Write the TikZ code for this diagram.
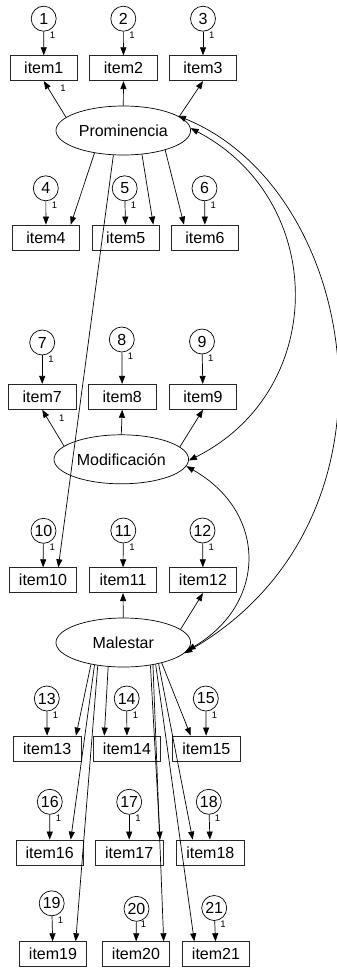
\documentclass[tikz,border=0pt]{standalone}
\usepackage{fontspec}
\setmainfont{Liberation Sans}
\usetikzlibrary{arrows.meta,calc,shapes.geometric}
\begin{document}
\begin{tikzpicture}[x=1pt,y=-1pt,
  obs/.style={draw=black!85, line width=0.8pt, minimum width=67.5pt, minimum height=25pt, inner sep=0pt, font=\fontsize{16}{18}\selectfont},
  err/.style={circle, draw, line width=0.7pt, minimum size=25pt, inner sep=0pt, font=\fontsize{16}{18}\selectfont},
  lat/.style={ellipse, draw, line width=0.7pt, minimum width=134.6pt, minimum height=49pt, inner sep=0pt, font=\fontsize{16}{18}\selectfont},
  lab/.style={font=\fontsize{9.5}{10}\selectfont, inner sep=0pt},
  arr/.style={-{Triangle[length=8pt,width=6pt]}, line width=0.7pt},
  cov/.style={{Triangle[length=8pt,width=6pt]}-{Triangle[length=8pt,width=6pt]}, line width=0.7pt}
]
\useasboundingbox (0,0) rectangle (337,970);

% error circles
\node[err] (e1) at (43.7,18.7) {1};
\node[err] (e2) at (123.3,18.7) {2};
\node[err] (e3) at (203,18.7) {3};
\node[err] (e4) at (45.8,188.3) {4};
\node[err] (e5) at (124.7,188.3) {5};
\node[err] (e6) at (204.5,188.3) {6};
\node[err] (e7) at (42.2,342.5) {7};
\node[err] (e8) at (121.8,339.5) {8};
\node[err] (e9) at (202,341.5) {9};
\node[err] (e10) at (43.5,530.8) {10};
\node[err] (e11) at (123.3,530.5) {11};
\node[err] (e12) at (202.5,530.5) {12};
\node[err] (e13) at (46.8,698.5) {13};
\node[err] (e14) at (126.7,698.5) {14};
\node[err] (e15) at (205.8,698.5) {15};
\node[err] (e16) at (49.8,801.8) {16};
\node[err] (e17) at (129.2,801.8) {17};
\node[err] (e18) at (208.8,801.8) {18};
\node[err] (e19) at (51.7,903.3) {19};
\node[err] (e20) at (136.5,908.8) {20};
\node[err] (e21) at (214.2,908) {21};

% observed items
\node[obs] (i1) at (43.8,68.2) {item1};
\node[obs] (i2) at (123.5,68.2) {item2};
\node[obs] (i3) at (203,68.2) {item3};
\node[obs] (i4) at (46,237.5) {item4};
\node[obs] (i5) at (125.7,237.5) {item5};
\node[obs] (i6) at (205,237.5) {item6};
\node[obs] (i7) at (42.2,396.8) {item7};
\node[obs] (i8) at (122.2,396.8) {item8};
\node[obs] (i9) at (203,396.8) {item9};
\node[obs] (i10) at (43,580.2) {item10};
\node[obs] (i11) at (123,580.2) {item11};
\node[obs] (i12) at (203,580.2) {item12};
\node[obs] (i13) at (47.2,748.5) {item13};
\node[obs] (i14) at (127,748.5) {item14};
\node[obs] (i15) at (206.3,748.5) {item15};
\node[obs] (i16) at (49.7,852.5) {item16};
\node[obs] (i17) at (129.2,852.5) {item17};
\node[obs] (i18) at (210.3,852.5) {item18};
\node[obs] (i19) at (53,954.2) {item19};
\node[obs] (i20) at (136,954.2) {item20};
\node[obs] (i21) at (216,954.2) {item21};

% latent variables
\node[lat] (prom) at (123.3,130.5) {Prominencia};
\node[lat] (mod) at (121.3,459.3) {Modificación};
\node[lat] (mal) at (123.3,642.5) {Malestar};

% error arrows
\foreach \k in {1,...,21} {
  \draw[arr] (e\k) -- (i\k);
}
% error labels
\foreach \k in {1,...,19,21} {
  \node[lab] (l\k) at ($(e\k.south)+(8.8,3.8)$) {1};
}
\node[lab] (l20) at ($(e20.south)+(7,2.8)$) {1};

% Prominencia loadings
\draw[arr] (prom.167) -- (i1.south);
\draw[arr] (prom.90) -- (i2.south);
\draw[arr] (prom.14) -- (i3.south);
\draw[arr] (prom.218) -- ($(i4.north)+(24.7,0)$);
\draw[arr] (prom.308) -- ($(i5.north)+(27.6,0)$);
\draw[arr] (prom.335) -- ($(i6.north)+(-21,0)$);
\draw[arr] (prom.248) -- ($(i10.north)+(15.3,0)$);
\node[lab] (lp) at ($(i1.south)+(19.2,7.3)$) {1};

% Modificacion loadings
\draw[arr] (mod.167) -- (i7.south);
\draw[arr] (mod.90) -- (i8.south);
\draw[arr] (mod.12) -- (i9.south);
\node[lab] (lm) at ($(i7.south)+(19.5,9)$) {1};

% Malestar loadings
\draw[arr] (mal.90) -- (i11.south);
\draw[arr] (mal.13) -- (i12.south);
\draw[arr] (mal.214) -- ($(i13.north)+(28.8,0)$);
\draw[arr] (mal.218) -- ($(i16.north)+(21,0)$);
\draw[arr] (mal.222) -- ($(i19.north)+(22.7,0)$);
\draw[arr] (mal.238) -- ($(i14.north)+(-22.7,0)$);
\draw[arr] (mal.320) -- ($(i17.north)+(30.8,0)$);
\draw[arr] (mal.323) -- ($(i20.north)+(27.7,0)$);
\draw[arr] (mal.326) -- ($(i21.north)+(-21.7,0)$);
\draw[arr] (mal.329) -- ($(i18.north)+(-17.6,0)$);
\draw[arr] (mal.332) -- ($(i15.north)+(-15.6,0)$);

% covariances
\draw[cov] (prom.2) .. controls ($(prom.2)+(137,72)$) and ($(mod.359)+(140,-70)$) .. (mod.359);
\draw[cov] (prom.15) .. controls ($(prom.15)+(182.5,74)$) and ($(mal.350)+(231,-133)$) .. (mal.350);
\draw[cov] (mod.354) .. controls ($(mod.354)+(81,46)$) and ($(mal.353)+(80,-47)$) .. (mal.353);
\end{tikzpicture}
\end{document}
